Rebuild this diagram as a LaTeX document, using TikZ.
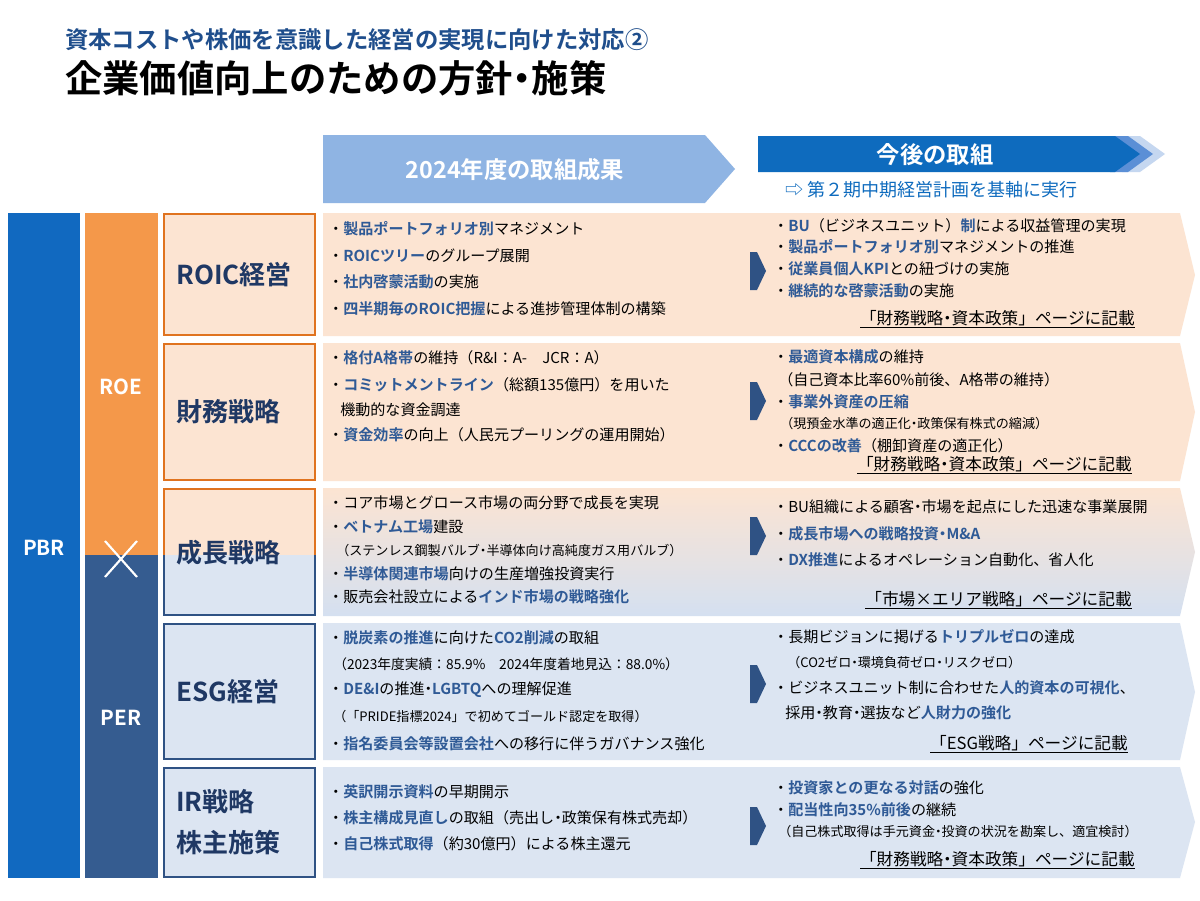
\documentclass[tikz,border=0pt]{standalone}
\usepackage{fontspec}
\setmainfont{Noto Sans CJK JP}[BoldFont={Noto Sans CJK JP Bold}]
\definecolor{peach}{HTML}{FCE4D2}
\definecolor{lblue}{HTML}{DCE5F2}
\definecolor{orb}{HTML}{E0731F}
\definecolor{orf}{HTML}{F4984A}
\definecolor{dbb}{HTML}{2F5284}
\definecolor{perc}{HTML}{355C90}
\definecolor{pbrc}{HTML}{1169C0}
\definecolor{h1c}{HTML}{8FB4E3}
\definecolor{h2c}{HTML}{0E6BBE}
\definecolor{h2m}{HTML}{5B8FD6}
\definecolor{h2l}{HTML}{C5D7F0}
\definecolor{hlc}{HTML}{2F5A96}
\definecolor{navy}{HTML}{1F3864}
\definecolor{ttl}{HTML}{1F4E8C}
\newcommand\hl[1]{{\bfseries\color{hlc}#1}}
\newcommand\nd{\kern-0.25em・\kern-0.25em}
\tikzset{
 tx/.style={anchor=west,inner sep=0pt,font=\fontsize{11.3}{13}\selectfont},
 sm/.style={anchor=west,inner sep=0pt,font=\fontsize{9.8}{12}\selectfont},
 ref/.style={anchor=east,inner sep=0pt,font=\fontsize{12.5}{14}\selectfont},
 lab/.style={anchor=west,inner sep=0pt,font=\fontsize{19.5}{24}\selectfont\bfseries,text=navy,align=left},
 big/.style={inner sep=0pt,font=\fontsize{15.5}{18}\selectfont\bfseries,text=white},
 sarrow/.style={fill=dbb,draw=none},
}
\begin{document}
\begin{tikzpicture}[x=0.75pt,y=-0.75pt]
\useasboundingbox (0,0) rectangle (1200,900);
\fill[white] (0,0) rectangle (1200,900);
% titles
\node[anchor=west,inner sep=0pt,font=\fontsize{17.5}{20}\selectfont\bfseries,text=ttl] (t1) at (65,40) {資本コストや株価を意識した経営の実現に向けた対応②};
\node[anchor=west,inner sep=0pt,font=\fontsize{28}{32}\selectfont\bfseries] (t2) at (65,78) {企業価値向上のための方針\nd 施策};
% headers
\fill[h1c] (323,135) -- (705,135) -- (735,169) -- (705,203) -- (323,203) -- cycle;
\node[big,font=\fontsize{17.5}{20}\selectfont\bfseries] (h1) at (515,170) {2024年度の取組成果};
\fill[h2l] (1140,136) -- (1140,136) -- (1165,154) -- (1140,172) -- (1122,172) -- (1147,154) -- (1122,136) -- cycle;
\fill[h2m] (1110,136) -- (1128,136) -- (1153,154) -- (1128,172) -- (1110,172) -- cycle;
\fill[h2c] (758,136) -- (1115,136) -- (1140,154) -- (1115,172) -- (758,172) -- cycle;
\node[big,font=\fontsize{17.5}{20}\selectfont\bfseries] (h2) at (935,155) {今後の取組};
\node[anchor=west,inner sep=0pt,font=\fontsize{13.5}{15}\selectfont,text=h2c] (h3) at (785,190) {⇨ 第２期中期経営計画を基軸に実行};
% left columns
\fill[pbrc] (8,213) rectangle (80,878);
\node[big] (pbr) at (44,548) {PBR};
\fill[orf] (85,213) rectangle (158,555);
\fill[perc] (85,555) rectangle (158,878);
\node[big] (roe) at (121,387) {ROE};
\node[big] (per) at (121,718) {PER};
\coordinate (xa) at (105,541); \coordinate (xb) at (137,577);
\coordinate (xc) at (137,541); \coordinate (xd) at (105,577);
\draw[white,line width=1.6pt] (xa) -- (xb) (xc) -- (xd);
% label boxes
\draw[orb,line width=1.8pt,fill=peach] (164,214) rectangle (315,335);
\draw[orb,line width=1.8pt,fill=peach] (164,344) rectangle (315,480);
\fill[peach] (164,489) rectangle (315,555);
\fill[lblue] (164,555) rectangle (315,615);
\draw[orb,line width=1.8pt] (164,555) -- (164,489) -- (315,489) -- (315,555);
\draw[dbb,line width=1.8pt] (164,555) -- (164,615) -- (315,615) -- (315,555);
\draw[dbb,line width=1.8pt,fill=lblue] (164,624) rectangle (315,759);
\draw[dbb,line width=1.8pt,fill=lblue] (164,768) rectangle (315,877);
\node[lab] (lb1) at (176,275) {ROIC経営};
\node[lab] (lb2) at (176,412) {財務戦略};
\node[lab] (lb3) at (176,553) {成長戦略};
\node[lab] (lb4) at (176,692) {ESG経営};
\node[lab,font=\fontsize{19.5}{31}\selectfont\bfseries] (lb5) at (176,822) {IR戦略\\株主施策};
% content panels
\fill[peach] (323,213) -- (1180,213) -- (1195,275) -- (1180,336) -- (323,336) -- cycle;
\fill[peach] (323,343) -- (1180,343) -- (1195,412) -- (1180,481) -- (323,481) -- cycle;
\shade[top color=peach,bottom color=lblue!90!h1c] (323,488) -- (1180,488) -- (1195,552) -- (1180,616) -- (323,616) -- cycle;
\fill[lblue] (323,623) -- (1180,623) -- (1195,692) -- (1180,760) -- (323,760) -- cycle;
\fill[lblue] (323,767) -- (1180,767) -- (1195,822) -- (1180,878) -- (323,878) -- cycle;
% small arrows
\fill[sarrow] (750,252) -- (757,252) -- (766,271) -- (757,290) -- (750,290) -- cycle;
\fill[sarrow] (750,382) -- (757,382) -- (766,401) -- (757,420) -- (750,420) -- cycle;
\fill[sarrow] (750,517) -- (757,517) -- (766,536) -- (757,555) -- (750,555) -- cycle;
\fill[sarrow] (750,665) -- (757,665) -- (766,684) -- (757,703) -- (750,703) -- cycle;
\fill[sarrow] (750,807) -- (757,807) -- (766,826) -- (757,845) -- (750,845) -- cycle;
% row 1
\node[tx] (a1) at (328,229) {・\hl{製品ポートフォリオ別}マネジメント};
\node[tx] (a2) at (328,256) {・\hl{ROICツリー}のグループ展開};
\node[tx] (a3) at (328,282) {・\hl{社内啓蒙活動}の実施};
\node[tx] (a4) at (328,309) {・\hl{四半期毎のROIC把握}による進捗管理体制の構築};
\node[tx] (b1) at (773,226) {・\hl{BU}（ビジネスユニット）\hl{制}による収益管理の実現};
\node[tx] (b2) at (773,247) {・\hl{製品ポートフォリオ別}マネジメントの推進};
\node[tx] (b3) at (773,269) {・\hl{従業員個人KPI}との紐づけの実施};
\node[tx] (b4) at (773,291) {・\hl{継続的な啓蒙活動}の実施};
\node[ref] (b5) at (1135,319) {\underline{「財務戦略\nd 資本政策」ページに記載}};
% row 2
\node[tx] (c1) at (328,358) {・\hl{格付A格帯}の維持（R\&I：A-　JCR：A）};
\node[tx] (c2) at (328,385) {・\hl{コミットメントライン}（総額135億円）を用いた};
\node[tx] (c3) at (340,410) {機動的な資金調達};
\node[tx] (c4) at (328,435) {・\hl{資金効率}の向上（人民元プーリングの運用開始）};
\node[tx] (d1) at (773,357) {・\hl{最適資本構成}の維持};
\node[tx] (d2) at (778,380) {（自己資本比率60\%前後、A格帯の維持）};
\node[tx] (d3) at (773,402) {・\hl{事業外資産の圧縮}};
\node[sm] (d4) at (780,424) {（現預金水準の適正化\nd 政策保有株式の縮減）};
\node[tx] (d5) at (773,446) {・\hl{CCCの改善}（棚卸資産の適正化）};
\node[ref] (d6) at (1132,465) {\underline{「財務戦略\nd 資本政策」ページに記載}};
% row 3
\node[tx] (e1) at (328,503) {・コア市場とグロース市場の両分野で成長を実現};
\node[tx] (e2) at (328,527) {・\hl{ベトナム工場}建設};
\node[sm] (e3) at (336,551) {（ステンレス鋼製バルブ\nd 半導体向け高純度ガス用バルブ）};
\node[tx] (e4) at (328,574) {・\hl{半導体関連市場}向けの生産増強投資実行};
\node[tx] (e5) at (328,597) {・販売会社設立による\hl{インド市場の戦略強化}};
\node[tx] (f1) at (773,507) {・BU組織による顧客\nd 市場を起点にした迅速な事業展開};
\node[tx] (f2) at (773,534) {・\hl{成長市場への戦略投資\nd M\&A}};
\node[tx] (f3) at (773,560) {・\hl{DX推進}によるオペレーション自動化、省人化};
\node[ref] (f4) at (1132,600) {\underline{「市場×エリア戦略」ページに記載}};
% row 4
\node[tx] (g1) at (328,638) {・\hl{脱炭素の推進}に向けた\hl{CO2削減}の取組};
\node[sm,font=\fontsize{10.3}{12}\selectfont] (g2) at (333,664) {（2023年度実績：85.9\%　2024年度着地見込：88.0\%）};
\node[tx] (g3) at (328,690) {・\hl{DE\&I}の推進\nd \hl{LGBTQ}への理解促進};
\node[sm] (g4) at (333,717) {（「PRIDE指標2024」で初めてゴールド認定を取得）};
\node[tx] (g5) at (328,744) {・\hl{指名委員会等設置会社}への移行に伴うガバナンス強化};
\node[tx] (k1) at (773,637) {・長期ビジョンに掲げる\hl{トリプルゼロ}の達成};
\node[sm] (k2) at (787,663) {（CO2ゼロ\nd 環境負荷ゼロ\nd リスクゼロ）};
\node[tx] (k3) at (773,688) {・ビジネスユニット制に合わせた\hl{人的資本の可視化}、};
\node[tx] (k4) at (785,713) {採用\nd 教育\nd 選抜など\hl{人財力の強化}};
\node[ref] (k5) at (1128,744) {\underline{「ESG戦略」ページに記載}};
% row 5
\node[tx] (m1) at (328,792) {・\hl{英訳開示資料}の早期開示};
\node[tx] (m2) at (328,818) {・\hl{株主構成見直し}の取組（売出し\nd 政策保有株式売却）};
\node[tx] (m3) at (328,844) {・\hl{自己株式取得}（約30億円）による株主還元};
\node[tx] (n1) at (773,788) {・\hl{投資家との更なる対話}の強化};
\node[tx] (n2) at (773,810) {・\hl{配当性向35\%前後}の継続};
\node[sm] (n3) at (778,832) {（自己株式取得は手元資金\nd 投資の状況を勘案し、適宜検討）};
\node[ref] (n4) at (1135,860) {\underline{「財務戦略\nd 資本政策」ページに記載}};
\end{tikzpicture}
\end{document}
